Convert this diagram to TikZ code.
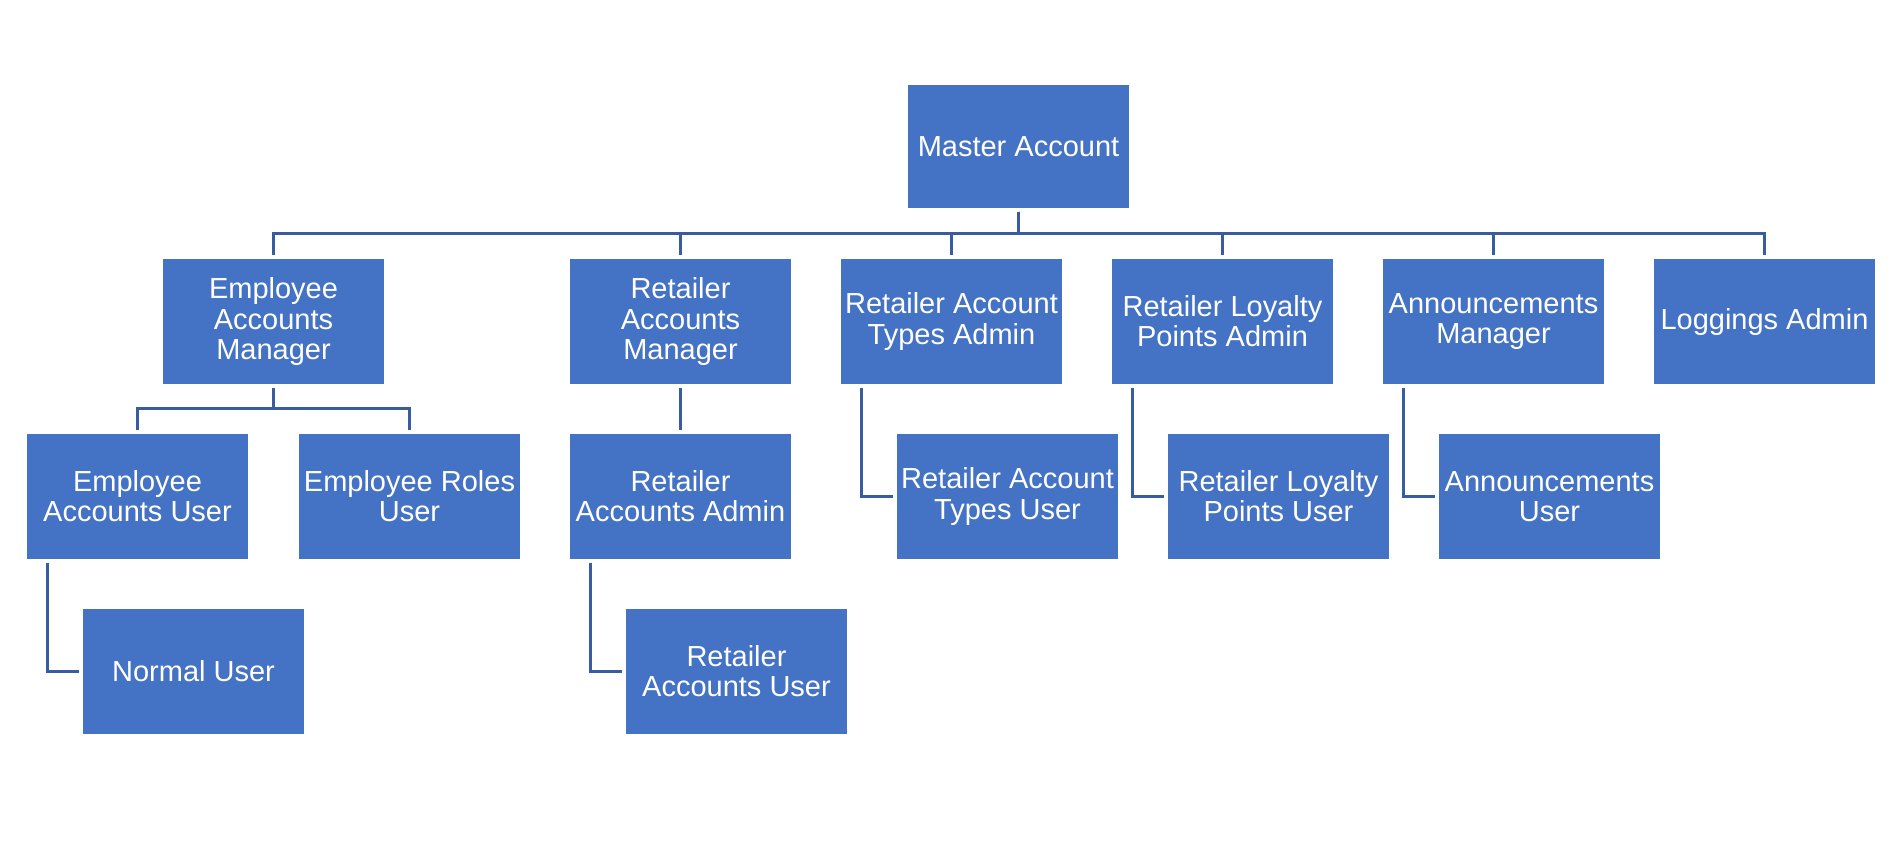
\documentclass[tikz,border=0pt]{standalone}
\usepackage{fontspec}
\setmainfont{Liberation Sans}
\usepackage{tikz}
\usetikzlibrary{calc}
\definecolor{boxBlue}{RGB}{68,114,196}
\definecolor{lineBlue}{RGB}{56,92,160}
\tikzset{
  acct/.style={fill=boxBlue, text=white, align=center,
               minimum width=2.21cm, minimum height=1.25cm,
               inner sep=0pt, outer sep=1pt,
               font=\fontsize{8.25pt}{8.54pt}\selectfont},
  conn/.style={draw=lineBlue, line width=0.03cm},
}

\begin{document}
\begin{tikzpicture}[x=1cm, y=1cm]
  % ----- canvas -----
  \useasboundingbox (0,0) rectangle (19.04,-8.48);

  % ----- top -----
  \node[acct, minimum height=1.23cm] (master) at (10.185,-1.465) {Master Account};

  % ----- level 1 -----
  \node[acct] (empMgr)   at (2.735,-3.215)  {Employee\\ Accounts\\ Manager};
  \node[acct] (retMgr)   at (6.805,-3.215)  {Retailer\\ Accounts\\ Manager};
  \node[acct] (typAdm)   at (9.515,-3.215)  {Retailer Account\\ Types Admin};
  \node[acct] (loyAdm)   at (12.225,-3.215) {Retailer Loyalty\\ Points Admin};
  \node[acct] (annMgr)   at (14.935,-3.215) {Announcements\\ Manager};
  \node[acct] (logAdm)   at (17.645,-3.215) {Loggings Admin};

  % ----- level 2 -----
  \node[acct] (empUser)  at (1.375,-4.965)  {Employee\\ Accounts User};
  \node[acct] (roleUser) at (4.095,-4.965)  {Employee Roles\\ User};
  \node[acct] (retAdm)   at (6.805,-4.965)  {Retailer\\ Accounts Admin};
  \node[acct] (typUser)  at (10.075,-4.965) {Retailer Account\\ Types User};
  \node[acct] (loyUser)  at (12.785,-4.965) {Retailer Loyalty\\ Points User};
  \node[acct] (annUser)  at (15.495,-4.965) {Announcements\\ User};

  % ----- level 3 -----
  \node[acct] (normUser) at (1.935,-6.71)   {Normal User};
  \node[acct] (retUser)  at (7.365,-6.71)   {Retailer\\ Accounts User};

  % ----- connectors -----
  \foreach \c in {empMgr,retMgr,typAdm,loyAdm,annMgr,logAdm}
    \draw[conn] (master.south) -- ++(0,-0.215) -| (\c.north);
  \foreach \c in {empUser,roleUser}
    \draw[conn] (empMgr.south) -- ++(0,-0.205) -| (\c.north);
  \draw[conn] (retMgr.south) -- (retAdm.north);

  % side branches
  \draw[conn] ($(empUser.south west)+(0.245,0)$) |- (normUser.west);
  \draw[conn] ($(retAdm.south west)+(0.245,0)$)  |- (retUser.west);
  \draw[conn] ($(typAdm.south west)+(0.245,0)$)  |- (typUser.west);
  \draw[conn] ($(loyAdm.south west)+(0.245,0)$)  |- (loyUser.west);
  \draw[conn] ($(annMgr.south west)+(0.245,0)$)  |- (annUser.west);
\end{tikzpicture}
\end{document}
